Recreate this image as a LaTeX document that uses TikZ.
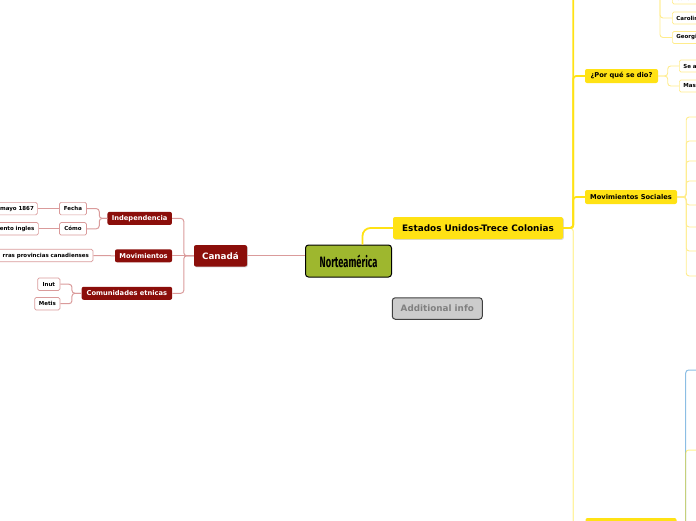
\documentclass[tikz,border=0pt]{standalone}
\usepackage{fontspec}
\setmainfont{DejaVu Sans}
\newfontfamily\titlefont[FakeStretch=0.62]{Fira Sans}
\usetikzlibrary{shadows}

\definecolor{canred}{RGB}{139,14,10}
\definecolor{canlink}{RGB}{218,155,155}
\definecolor{usyellow}{RGB}{255,226,20}
\definecolor{paleyellow}{RGB}{255,236,140}
\definecolor{rootgreen}{RGB}{158,183,46}
\definecolor{infogray}{RGB}{204,204,204}
\definecolor{infotext}{RGB}{128,128,128}
\definecolor{bluelink}{RGB}{140,190,228}

\tikzset{
  rootbox/.style={draw=black, line width=1pt, fill=rootgreen, rounded corners=3pt,
    minimum width=86pt, minimum height=32pt, inner sep=0pt,
    font=\titlefont\bfseries\fontsize{15}{15}\selectfont},
  redmain/.style={fill=canred, text=white, rounded corners=2pt, inner sep=0pt,
    font=\bfseries\fontsize{8.8}{9}\selectfont,
    drop shadow={opacity=0.35, shadow xshift=0.8pt, shadow yshift=-0.8pt}},
  redsub/.style={fill=canred, text=white, rounded corners=2pt, inner sep=0pt,
    minimum height=13pt, font=\bfseries\fontsize{6.7}{7}\selectfont},
  redleaf/.style={draw=canlink, fill=white, rounded corners=1.5pt, line width=0.7pt,
    inner sep=0pt, minimum height=12.5pt, font=\bfseries\fontsize{5.5}{6}\selectfont},
  yelmain/.style={fill=usyellow, rounded corners=2pt, inner sep=0pt,
    font=\bfseries\fontsize{8.9}{9}\selectfont,
    drop shadow={opacity=0.3, shadow xshift=0.8pt, shadow yshift=-0.8pt}},
  yelsub/.style={fill=usyellow, rounded corners=2pt, inner sep=0pt,
    minimum height=14pt, font=\bfseries\fontsize{6.7}{7}\selectfont},
  yelleaf/.style={draw=paleyellow, fill=white, rounded corners=1.5pt, line width=0.7pt,
    anchor=west, inner xsep=4pt, inner ysep=0pt, minimum width=40pt, minimum height=12pt,
    text width=32pt, font=\bfseries\fontsize{5.5}{6}\selectfont},
  infobox/.style={draw=black!75, line width=1pt, fill=infogray, text=infotext,
    rounded corners=3pt, inner sep=0pt, minimum width=90pt, minimum height=21.5pt,
    font=\bfseries\fontsize{8.8}{9}\selectfont},
  redlink/.style={draw=canlink, line width=1pt, rounded corners=3pt},
  yellink/.style={draw=usyellow, line width=1.8pt, rounded corners=3pt},
  palelink/.style={draw=usyellow, draw opacity=0.4, line width=1.3pt, rounded corners=3pt},
  leaflink/.style={draw=paleyellow, line width=0.9pt, rounded corners=3pt}
}

\begin{document}
\begin{tikzpicture}[x=1pt, y=-1pt]
  \useasboundingbox (0,0) rectangle (696,520);
  \clip (0,0) rectangle (696,520);

  % centre and Canada
  \node[rootbox] (norte) at (348.5,261) {Norteamérica};
  \node[redmain, minimum width=53pt, minimum height=21.5pt] (canada) at (220.5,255.8) {Canadá};
  \node[redsub, minimum width=64.5pt] (indep) at (139.7,218.4) {Independencia};
  \node[redsub, minimum width=57pt] (movim) at (143.5,255.8) {Movimientos};
  \node[redsub, minimum width=90.5pt] (comun) at (126.9,293.3) {Comunidades etnicas};
  \node[redleaf, minimum width=27pt] (fecha) at (72.9,208.6) {Fecha};
  \node[redleaf, minimum width=27pt] (como) at (73,228.8) {Cómo};
  \node[redleaf, anchor=east, text width=60pt, align=right, inner xsep=3.5pt] (mayo) at (37.7,208.6) {mayo 1867};
  \node[redleaf, anchor=east, text width=60pt, align=right, inner xsep=4pt] (ento) at (38.7,228.8) {ento ingles};
  \node[redleaf, anchor=east, text width=110pt, align=right, inner xsep=4pt] (tierras) at (93.3,255.5) {rras provincias canadienses};
  \node[redleaf, minimum width=22.3pt] (inut) at (48.8,284.2) {Inut};
  \node[redleaf, minimum width=25.3pt] (metis) at (47.3,303.7) {Metis};

  \draw[redlink] (canada.east) -- (canada.east -| norte.west);
  \draw[redlink] (canada.west) -- ++(-10,0) |- (indep.east);
  \draw[redlink] (canada.west) -- (movim.east);
  \draw[redlink] (canada.west) -- ++(-10,0) |- (comun.east);
  \draw[redlink] (indep.west) -- ++(-8,0) |- (fecha.east);
  \draw[redlink] (indep.west) -- ++(-8,0) |- (como.east);
  \draw[redlink] (fecha.west) -- (mayo.east);
  \draw[redlink] (como.west) -- (ento.east);
  \draw[redlink] (movim.west) -- (tierras.east);
  \draw[redlink] (comun.west) -- ++(-9.5,0) |- (inut.east);
  \draw[redlink] (comun.west) -- ++(-9.5,0) |- (metis.east);

  % Estados Unidos
  \node[yelmain, minimum width=170pt, minimum height=22pt] (eeuu) at (478,228) {Estados Unidos-Trece Colonias};
  \node[infobox] (info) at (437.3,308.5) {Additional info};
  \node[yelsub, minimum width=73pt] (porque) at (621.5,76) {¿Por qué se dio?};
  \node[yelsub, minimum width=92pt] (movsoc) at (631,197) {Movimientos Sociales};
  \node[yelsub, minimum width=91pt, minimum height=20pt] (ultimo) at (631,528) {};
  \node[yelleaf] (car1) at (672,-2) {Carolina};
  \node[yelleaf] (car2) at (672,18) {Carolina};
  \node[yelleaf] (georgia) at (672,37.5) {Georgia};
  \node[yelleaf] (sea) at (679,66) {Se a};
  \node[yelleaf] (mas) at (679,86) {Mas};

  \coordinate (colonias) at (585,-60);
  \coordinate (colhub) at (660,-30);
  \draw[yellink, rounded corners=8pt] ([xshift=14pt]norte.north) |- (eeuu.west);
  \draw[palelink] (eeuu.east) -- ++(10,0) |- (ultimo.west);
  \draw[yellink] (eeuu.east) -- ++(10,0) |- (colonias);
  \draw[yellink] (eeuu.east) -- ++(10,0) |- (porque.west);
  \draw[yellink] (eeuu.east) -- ++(10,0) |- (movsoc.west);

  \draw[leaflink] (colhub) |- (car1.west);
  \draw[leaflink] (colhub) |- (car2.west);
  \draw[leaflink] (colhub) |- (georgia.west);
  \draw[leaflink] (porque.east) -- ++(9.5,0) |- (sea.west);
  \draw[leaflink] (porque.east) -- ++(9.5,0) |- (mas.west);

  \foreach \y [count=\i] in {117,141,161,181,205,227,251,276} {
    \coordinate (ms\i) at (700,\y);
    \draw[leaflink] (movsoc.east) -- ++(9,0) |- (ms\i);
  }

  \coordinate (ub1) at (700,370);
  \coordinate (ub2) at (700,450);
  \draw[draw=bluelink, line width=1pt, rounded corners=3pt] (ultimo.east) -- ++(9,0) |- (ub1);
  \draw[draw=usyellow, draw opacity=0.5, line width=1pt, rounded corners=3pt] (ultimo.east) -- ++(9,0) |- (ub2);
\end{tikzpicture}
\end{document}
